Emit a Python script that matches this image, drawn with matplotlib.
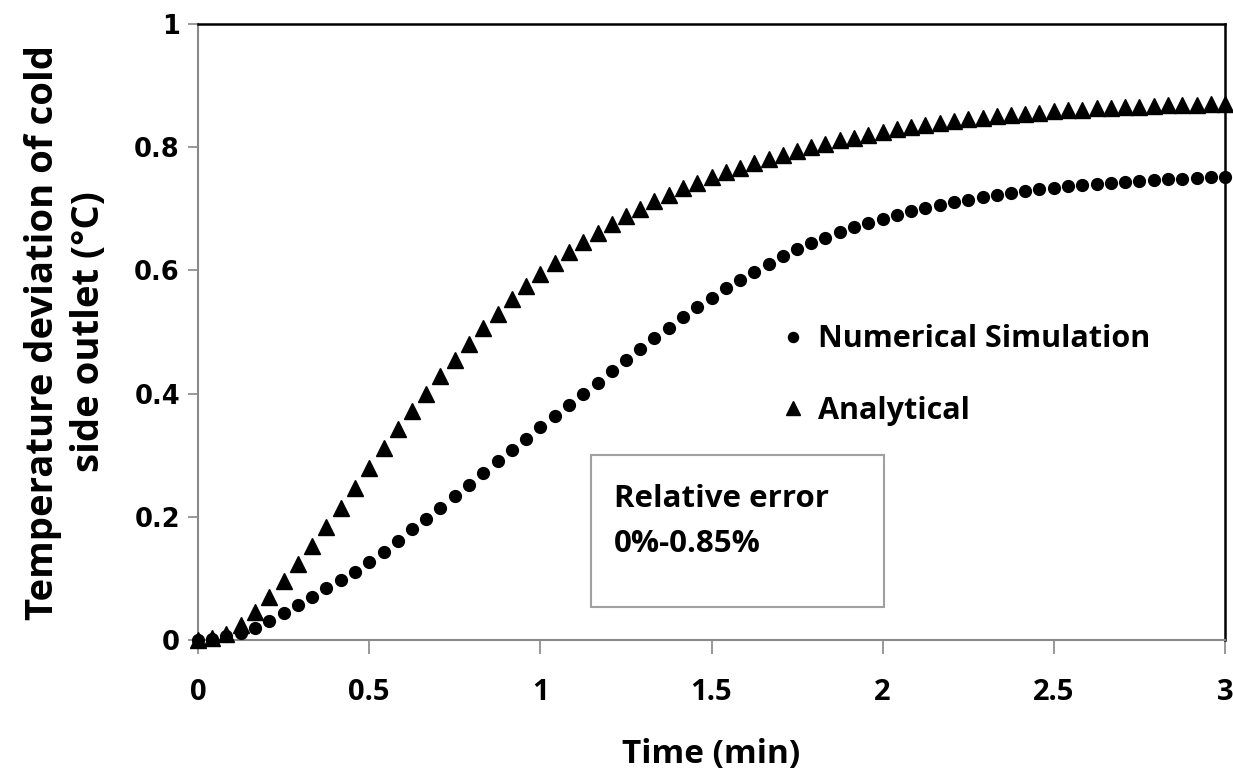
import matplotlib
matplotlib.use("Agg")
import matplotlib.pyplot as plt
from matplotlib.patches import Rectangle

# time grid (min), one point every 2.5 s
time = [0.000, 0.042, 0.083, 0.125, 0.167, 0.208, 0.250, 0.292, 0.333, 0.375,
        0.417, 0.458, 0.500, 0.542, 0.583, 0.625, 0.667, 0.708, 0.750, 0.792,
        0.833, 0.875, 0.917, 0.958, 1.000, 1.042, 1.083, 1.125, 1.167, 1.208,
        1.250, 1.292, 1.333, 1.375, 1.417, 1.458, 1.500, 1.542, 1.583, 1.625,
        1.667, 1.708, 1.750, 1.792, 1.833, 1.875, 1.917, 1.958, 2.000, 2.042,
        2.083, 2.125, 2.167, 2.208, 2.250, 2.292, 2.333, 2.375, 2.417, 2.458,
        2.500, 2.542, 2.583, 2.625, 2.667, 2.708, 2.750, 2.792, 2.833, 2.875,
        2.917, 2.958, 3.000]

numerical = [0.000, 0.002, 0.006, 0.012, 0.020, 0.031, 0.044, 0.057, 0.070, 0.084,
             0.097, 0.111, 0.127, 0.143, 0.161, 0.180, 0.197, 0.215, 0.233, 0.252,
             0.271, 0.290, 0.309, 0.327, 0.345, 0.363, 0.381, 0.399, 0.417, 0.436,
             0.454, 0.472, 0.490, 0.507, 0.525, 0.541, 0.556, 0.571, 0.585, 0.598,
             0.611, 0.623, 0.634, 0.644, 0.653, 0.662, 0.670, 0.677, 0.684, 0.690,
             0.696, 0.701, 0.706, 0.711, 0.715, 0.719, 0.722, 0.726, 0.729, 0.732,
             0.734, 0.737, 0.739, 0.741, 0.742, 0.744, 0.745, 0.747, 0.748, 0.749,
             0.750, 0.751, 0.752]

analytical = [0.000, 0.003, 0.010, 0.024, 0.045, 0.070, 0.096, 0.123, 0.153, 0.183,
              0.215, 0.247, 0.279, 0.311, 0.342, 0.372, 0.400, 0.428, 0.455, 0.481,
              0.506, 0.530, 0.553, 0.574, 0.594, 0.612, 0.630, 0.646, 0.661, 0.675,
              0.688, 0.700, 0.712, 0.723, 0.733, 0.742, 0.751, 0.759, 0.767, 0.774,
              0.781, 0.788, 0.794, 0.800, 0.805, 0.811, 0.815, 0.820, 0.825, 0.829,
              0.832, 0.836, 0.839, 0.842, 0.845, 0.848, 0.850, 0.852, 0.854, 0.856,
              0.858, 0.860, 0.861, 0.863, 0.864, 0.865, 0.866, 0.867, 0.868, 0.869,
              0.869, 0.870, 0.870]

xticks = [0, 0.5, 1, 1.5, 2, 2.5, 3]
xticklabels = ["0", "0.5", "1", "1.5", "2", "2.5", "3"]
yticks = [0, 0.2, 0.4, 0.6, 0.8, 1]
yticklabels = ["0", "0.2", "0.4", "0.6", "0.8", "1"]

body = ["Open Sans", "DejaVu Sans"]

fig = plt.figure(figsize=(12.33, 7.79), dpi=100)
ax = fig.add_axes([198/1233, 1-640/779, 1027/1233, 616/779])

ax.plot(time, numerical, linestyle="none", marker="o", markersize=8.5,
        color="black", label="Numerical Simulation", zorder=3, clip_on=False)
ax.plot(time, analytical, linestyle="none", marker="^", markersize=12,
        color="black", label="Analytical", zorder=3, clip_on=False)

ax.set_xlim(0, 3)
ax.set_ylim(0, 1)
ax.set_xticks(xticks)
ax.set_xticklabels(xticklabels, family=body, fontweight="bold", fontsize=21)
ax.set_yticks(yticks)
ax.set_yticklabels(yticklabels, family="DejaVu Sans", fontweight="bold", fontsize=18.5)
ax.tick_params(axis="x", direction="out", length=10, width=1.2, color="#888888", pad=17)
ax.tick_params(axis="y", direction="out", length=7, width=1.2, color="#888888", pad=6)

for side in ["left", "bottom"]:
    ax.spines[side].set_color("#8a8a8a")
    ax.spines[side].set_linewidth(1.5)
for side in ["top", "right"]:
    ax.spines[side].set_color("black")
    ax.spines[side].set_linewidth(1.8)

leg = ax.legend(loc="upper left", bbox_to_anchor=(0.544, 0.557), frameon=False,
                handlelength=0.6, handletextpad=0.5, labelspacing=1.35,
                prop={"family": body, "weight": "bold", "size": 22},
                markerscale=0.85)

# annotation box
box = Rectangle((0.383, 0.053), 0.285, 0.248, transform=ax.transAxes,
                facecolor="white", edgecolor="#a0a0a0", linewidth=1.5, zorder=4)
ax.add_patch(box)
ax.text(0.405, 0.192, "Relative error\n0%-0.85%", transform=ax.transAxes,
        ha="left", va="center", family=body, fontweight="bold", fontsize=22.5,
        linespacing=1.65, zorder=5)

fig.text(711/1233, 1-755/779, "Time (min)", ha="center", va="center",
         family=body, fontweight="bold", fontsize=24)
fig.text(66/1233, 1-332/779, "Temperature deviation of cold\nside outlet (\u00b0C)",
         ha="center", va="center", rotation=90, family=body, fontweight="bold",
         fontsize=27.5, linespacing=1.25)

fig.savefig("out.png", dpi=100)
